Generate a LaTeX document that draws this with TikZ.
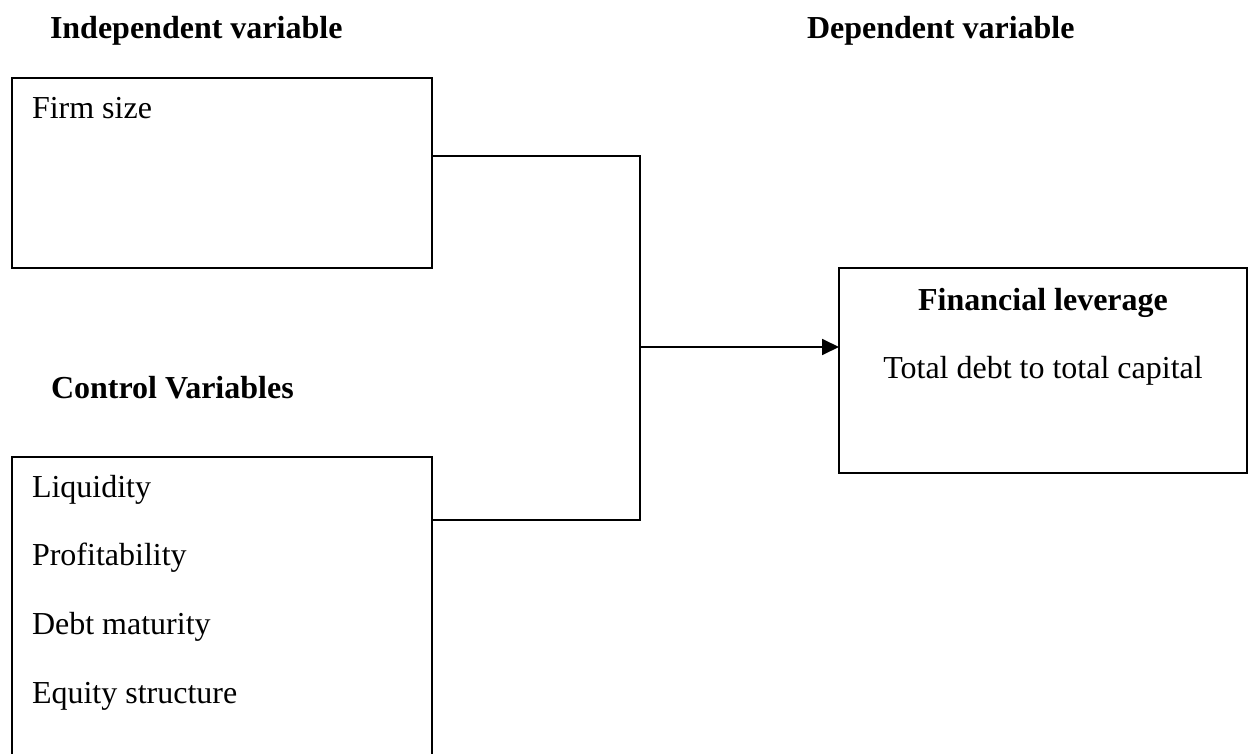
\documentclass[tikz,border=0pt]{standalone}
\usepackage{fontspec}
\setmainfont{Liberation Serif}
\usetikzlibrary{arrows.meta}
\begin{document}
\begin{tikzpicture}[x=1pt,y=-1pt,
  box/.style={draw,line width=1.8pt,outer sep=0pt,inner sep=0pt,anchor=north west},
  txt/.style={inner sep=0pt,outer sep=0pt,font=\fontsize{32}{38}\selectfont},
  hdr/.style={txt,font=\fontsize{32}{38}\selectfont\bfseries},
  conn/.style={line width=1.8pt}]
\useasboundingbox (0,0) rectangle (1253,754);
\clip (0,0) rectangle (1253,754);
\fill[white] (0,0) rectangle (1253,754);
% headers
\node[hdr,anchor=base west] (indep) at (50,39) {Independent variable};
\node[hdr,anchor=base west] (dep) at (807,39) {Dependent variable};
\node[hdr,anchor=base west] (ctrlh) at (51,398) {Control Variables};
% boxes
\node[box,minimum width=420pt,minimum height=190pt] (firm) at (12,78) {};
\node[box,minimum width=420pt,minimum height=330pt] (ctrl) at (12,457) {};
\node[box,minimum width=408pt,minimum height=205pt] (lev) at (839,268) {};
% box texts
\node[txt,anchor=base west] (fs) at (32,119) {Firm size};
\node[txt,anchor=base west] (liq) at (32,497) {Liquidity};
\node[txt,anchor=base west] (prof) at (32,565) {Profitability};
\node[txt,anchor=base west] (debt) at (32,634) {Debt maturity};
\node[txt,anchor=base west] (eq) at (32,703) {Equity structure};
\node[hdr,anchor=base] (fl) at (1043,310) {Financial leverage};
\node[txt,anchor=base] (td) at (1043,378) {Total debt to total capital};
% connectors
\coordinate (j) at (640,347);
\draw[conn] ([yshift=-78pt]firm.north east) -| (j);
\draw[conn] ([yshift=-63pt]ctrl.north east) -| (j);
\draw[conn,-{Triangle[length=17pt,width=16pt]}] (j) -- (j -| lev.west);
\end{tikzpicture}
\end{document}
